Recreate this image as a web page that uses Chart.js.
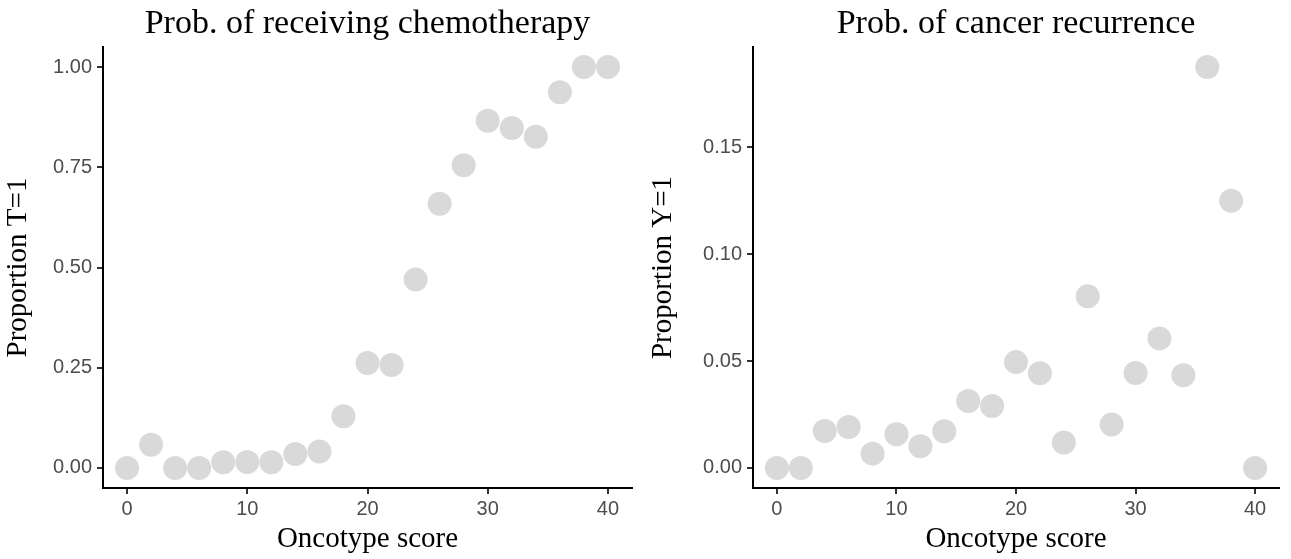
<!DOCTYPE html>
<html>
<head>
<meta charset="utf-8">
<script src="https://cdn.jsdelivr.net/npm/chart.js@4.4.1/dist/chart.umd.min.js"></script>
<style>
  body { margin: 0; background: #fff; }
  canvas { position: absolute; top: 0; }
  #chart-chemo { left: 0; }
  #chart-recur { left: 645px; }
</style>
</head>
<body>
<canvas id="chart-chemo" width="645" height="559"></canvas>
<canvas id="chart-recur" width="646" height="559"></canvas>
<script>
// oncotype score bins
const scores = [0, 2, 4, 6, 8, 10, 12, 14, 16, 18, 20, 22, 24, 26, 28, 30, 32, 34, 36, 38, 40];
// proportion receiving chemotherapy (T=1)
const propT = [0, 0.058, 0, 0, 0.014, 0.015, 0.014, 0.035, 0.041, 0.129, 0.262, 0.257,
  0.47, 0.659, 0.755, 0.866, 0.848, 0.826, 0.937, 1, 1];
// proportion with cancer recurrence (Y=1)
const propY = [0, 0, 0.0173, 0.0192, 0.0067, 0.0158, 0.0102, 0.0172, 0.0313, 0.029, 0.0495,
  0.0443, 0.0119, 0.0803, 0.0203, 0.0444, 0.0606, 0.0434, 0.1875, 0.125, 0];

const xTicks = [0, 10, 20, 30, 40];
const yTicksT = [0, 0.25, 0.5, 0.75, 1];
const yTicksY = [0, 0.05, 0.1, 0.15];

const serif = 'Liberation Serif';
const sans = 'Liberation Sans';

var makePanel = function(id, title, yTitle, values, yMin, yMax, yTicks, yWidth, padRight) {
  let ctx = document.getElementById(id);
  new Chart(ctx, {
    type: 'scatter',
    data: {
      datasets: [{
        data: scores.map((s, i) => ({ x: s, y: values[i] })),
        backgroundColor: '#d9d9d9',
        borderWidth: 0,
        pointRadius: 12,
        pointHoverRadius: 12
      }]
    },
    options: {
      responsive: false,
      animation: false,
      layout: { padding: { left: 0, right: padRight, top: 0, bottom: 0 } },
      plugins: {
        legend: { display: false },
        tooltip: { enabled: false },
        title: {
          display: true,
          text: title,
          fullSize: false,
          color: '#000',
          font: { family: serif, size: 34, weight: 'normal', lineHeight: 1 },
          padding: { top: 7, bottom: 6 }
        }
      },
      scales: {
        x: {
          type: 'linear',
          min: -2,
          max: 42,
          afterBuildTicks: s => { s.ticks = xTicks.map(v => ({ value: v })); },
          afterFit: s => { s.height = 71; },
          ticks: {
            color: '#4d4d4d',
            font: { family: sans, size: 20 },
            padding: 3,
            maxRotation: 0
          },
          grid: {
            drawOnChartArea: false,
            drawTicks: true,
            tickLength: 6,
            tickColor: '#333',
            lineWidth: 2
          },
          border: { display: true, color: '#000', width: 2 },
          title: {
            display: true,
            text: 'Oncotype score',
            color: '#000',
            font: { family: serif, size: 29, lineHeight: 1.2 },
            padding: { top: 0, bottom: 2 }
          }
        },
        y: {
          type: 'linear',
          min: yMin,
          max: yMax,
          afterBuildTicks: s => { s.ticks = yTicks.map(v => ({ value: v })); },
          afterFit: s => { s.width = yWidth; },
          ticks: {
            color: '#4d4d4d',
            font: { family: sans, size: 20 },
            padding: 5,
            callback: v => v.toFixed(2)
          },
          grid: {
            drawOnChartArea: false,
            drawTicks: true,
            tickLength: 6,
            tickColor: '#333',
            lineWidth: 2
          },
          border: { display: true, color: '#000', width: 2 },
          title: {
            display: true,
            text: yTitle,
            color: '#000',
            font: { family: serif, size: 29, lineHeight: 1.2 },
            padding: { top: 1, bottom: 0 }
          }
        }
      }
    }
  });
};

makePanel('chart-chemo', 'Prob. of receiving chemotherapy', 'Proportion T=1',
  propT, -0.05, 1.05, yTicksT, 103, 13);
makePanel('chart-recur', 'Prob. of cancer recurrence', 'Proportion Y=1',
  propY, -0.009375, 0.196875, yTicksY, 108, 10);
</script>
</body>
</html>
